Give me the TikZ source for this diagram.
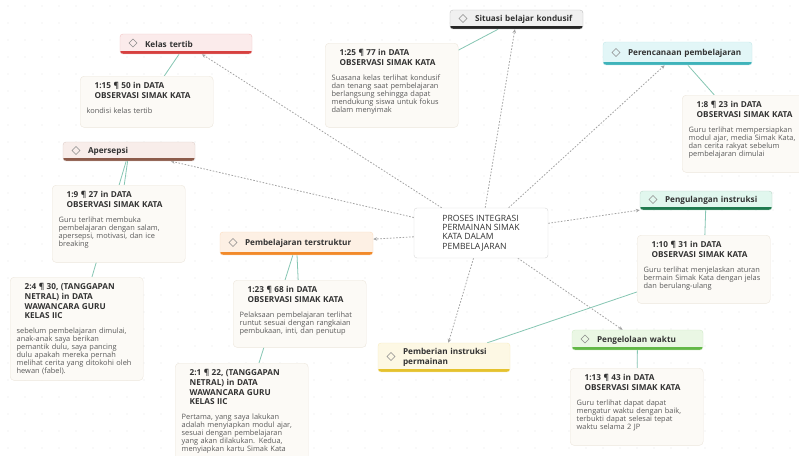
\documentclass[tikz,border=0pt]{standalone}
\usepackage{fontspec}
\setmainfont{Open Sans}
\usetikzlibrary{arrows.meta,backgrounds}

\definecolor{headc}{HTML}{333333}
\definecolor{bodyc}{HTML}{5A5A5A}
\definecolor{linkc}{HTML}{A3A3A3}
\definecolor{tiec}{HTML}{86C6B3}
\definecolor{quotebg}{HTML}{FCFAF6}
\definecolor{quoteline}{HTML}{EDE7DD}
\definecolor{kelasbar}{HTML}{D6403F}\definecolor{kelasbg}{HTML}{FBEBEB}
\definecolor{sitbar}{HTML}{262626}\definecolor{sitbg}{HTML}{F0F0F0}
\definecolor{perbar}{HTML}{3FB3BA}\definecolor{perbg}{HTML}{E2F6F7}
\definecolor{apebar}{HTML}{8C5B4B}\definecolor{apebg}{HTML}{F8EDEA}
\definecolor{strbar}{HTML}{F28A2A}\definecolor{strbg}{HTML}{FDF0E4}
\definecolor{ulabar}{HTML}{1F7A4F}\definecolor{ulabg}{HTML}{E1F7EE}
\definecolor{berbar}{HTML}{E5C22E}\definecolor{berbg}{HTML}{FDF8E4}
\definecolor{kelbar}{HTML}{62B846}\definecolor{kelbg}{HTML}{EAF7E4}

\newcommand\qhead{\fontsize{8.2}{9.8}\selectfont\bfseries\color{headc}\leftskip=8pt}

\tikzset{
  core/.style={fill=white,draw=black!15,rounded corners=3pt,minimum width=134pt,minimum height=50pt,
    align=left,font=\fontsize{8.6}{9.3}\selectfont,text=headc},
  code/.style 2 args={fill=#2,draw=#1!30,rounded corners=3pt,inner xsep=7pt,inner ysep=4pt,align=left,
    font=\fontsize{8.2}{9.4}\selectfont\bfseries,text=headc,
    path picture={
      \fill[#1,sharp corners] ([yshift=2.6pt]path picture bounding box.south west) rectangle (path picture bounding box.south east);
      \draw[black!45,line width=0.6pt,sharp corners] ([xshift=9pt,yshift=1pt]path picture bounding box.west)
        -- ++(4pt,4pt) -- ++(4pt,-4pt) -- ++(-4pt,-4pt) -- cycle;}},
  quote/.style={anchor=north west,fill=quotebg,draw=quoteline,rounded corners=4pt,text width=120pt,
    inner xsep=6.5pt,inner ysep=6pt,align=left,font=\fontsize{7.4}{8}\selectfont,text=bodyc},
  link/.style={draw=linkc,line width=0.8pt,dash pattern=on 1.6pt off 1.6pt,-{Stealth[length=4pt,width=3.5pt]}},
  tie/.style={draw=tiec,line width=0.8pt}
}

\begin{document}
\begin{tikzpicture}[x=1pt,y=-1pt]
\useasboundingbox (0,0) rectangle (799,455);

% centre
\node[core] (proses) at (481,233) {PROSES INTEGRASI\\PERMAINAN SIMAK\\KATA DALAM\\PEMBELAJARAN};

% codes
\node[code={kelasbar}{kelasbg},text width=118pt,minimum height=20pt] (kelas) at (186,44) {\hspace*{18pt}Kelas tertib};
\node[code={sitbar}{sitbg},text width=119pt,minimum height=19pt] (situasi) at (516.5,19.5) {\hspace*{18pt}Situasi belajar kondusif};
\node[code={perbar}{perbg},text width=135pt,minimum height=23pt] (rencana) at (677.5,53.5) {\hspace*{18pt}Perencanaan pembelajaran};
\node[code={apebar}{apebg},text width=118pt,minimum height=19pt] (apersepsi) at (129,151.5) {\hspace*{18pt}Apersepsi};
\node[code={strbar}{strbg},text width=139pt,minimum height=23pt] (struktur) at (296.5,243.5) {\hspace*{18pt}Pembelajaran terstruktur};
\node[code={ulabar}{ulabg},text width=118pt,minimum height=19pt] (ulang) at (706,200.5) {\hspace*{18pt}Pengulangan instruksi};
\node[code={berbar}{berbg},text width=118pt,minimum height=29pt] (instruksi) at (444,357.5) {\hspace*{18pt}Pemberian instruksi\\\hspace*{18pt}permainan};
\node[code={kelbar}{kelbg},text width=117pt,minimum height=20pt] (waktu) at (637.5,340) {\hspace*{18pt}Pengelolaan waktu};

% quotations
\node[quote,text depth=33pt] (q1) at (80,76) {{\qhead 1:15 ¶ 50 in DATA\\OBSERVASI SIMAK KATA\par}\vspace{7pt}
  kondisi kelas tertib};
\node[quote,text depth=66pt] (q2) at (325,43) {{\qhead 1:25 ¶ 77 in DATA\\OBSERVASI SIMAK KATA\par}\vspace{7pt}
  Suasana kelas terlihat kondusif\\dan tenang saat pembelajaran\\berlangsung sehingga dapat\\mendukung siswa untuk fokus\\dalam menyimak};
\node[quote,text depth=59pt] (q3) at (682,95) {{\qhead 1:8 ¶ 23 in DATA\\OBSERVASI SIMAK KATA\par}\vspace{7pt}
  Guru terlihat mempersiapkan\\modul ajar, media Simak Kata,\\dan cerita rakyat sebelum\\pembelajaran dimulai};
\node[quote,text depth=59pt] (q4) at (52,185) {{\qhead 1:9 ¶ 27 in DATA\\OBSERVASI SIMAK KATA\par}\vspace{7pt}
  Guru terlihat membuka\\pembelajaran dengan salam,\\apersepsi, motivasi, dan ice\\breaking};
\node[quote,text depth=85pt] (q5) at (10,277) {{\qhead 2:4 ¶ 30, (TANGGAPAN\\NETRAL) in DATA\\WAWANCARA GURU\\KELAS IIC\par}\vspace{7pt}
  sebelum pembelajaran dimulai,\\anak-anak saya berikan\\pemantik dulu, saya pancing\\dulu apakah mereka pernah\\melihat cerita yang ditokohi oleh\\hewan (fabel).};
\node[quote,text depth=49pt] (q6) at (233,280) {{\qhead 1:23 ¶ 68 in DATA\\OBSERVASI SIMAK KATA\par}\vspace{7pt}
  Pelaksaan pembelajaran terlihat\\runtut sesuai dengan rangkaian\\pembukaan, inti, dan penutup};
\node[quote,text depth=92pt] (q7) at (175,363) {{\qhead 2:1 ¶ 22, (TANGGAPAN\\NETRAL) in DATA\\WAWANCARA GURU\\KELAS IIC\par}\vspace{7pt}
  Pertama, yang saya lakukan\\adalah menyiapkan modul ajar,\\sesuai dengan pembelajaran\\yang akan dilakukan. Kedua,\\menyiapkan kartu Simak Kata};
\node[quote,text depth=50pt] (q8) at (637,235) {{\qhead 1:10 ¶ 31 in DATA\\OBSERVASI SIMAK KATA\par}\vspace{7pt}
  Guru terlihat menjelaskan aturan\\bermain Simak Kata dengan jelas\\dan berulang-ulang};
\node[quote,text depth=59pt] (q9) at (570,368) {{\qhead 1:13 ¶ 43 in DATA\\OBSERVASI SIMAK KATA\par}\vspace{7pt}
  Guru terlihat dapat dapat\\mengatur waktu dengan baik,\\terbukti dapat selesai tepat\\waktu selama 2 JP};

\begin{scope}[on background layer]
\fill[white] (0,0) rectangle (799,455);
\foreach \x in {8,25,...,799} \foreach \y in {6,23,...,455} \fill[black!9] (\x,\y) circle (0.6pt);
% links from the centre
\foreach \c in {kelas,situasi,rencana,apersepsi,struktur,ulang,instruksi,waktu}
  \draw[link] (proses) -- (\c);
% links to quotations
\draw[tie] (kelas) -- (q1);
\draw[tie] (situasi) -- (q2);
\draw[tie] (rencana) -- (q3);
\draw[tie] (apersepsi) -- (q4);
\draw[tie] (apersepsi) -- (q5);
\draw[tie] (struktur) -- (q6);
\draw[tie] (struktur) -- (q7);
\draw[tie] (ulang) -- (q8);
\draw[tie] (instruksi) -- (q8);
\draw[tie] (waktu) -- (q9);
\end{scope}
\end{tikzpicture}
\end{document}
